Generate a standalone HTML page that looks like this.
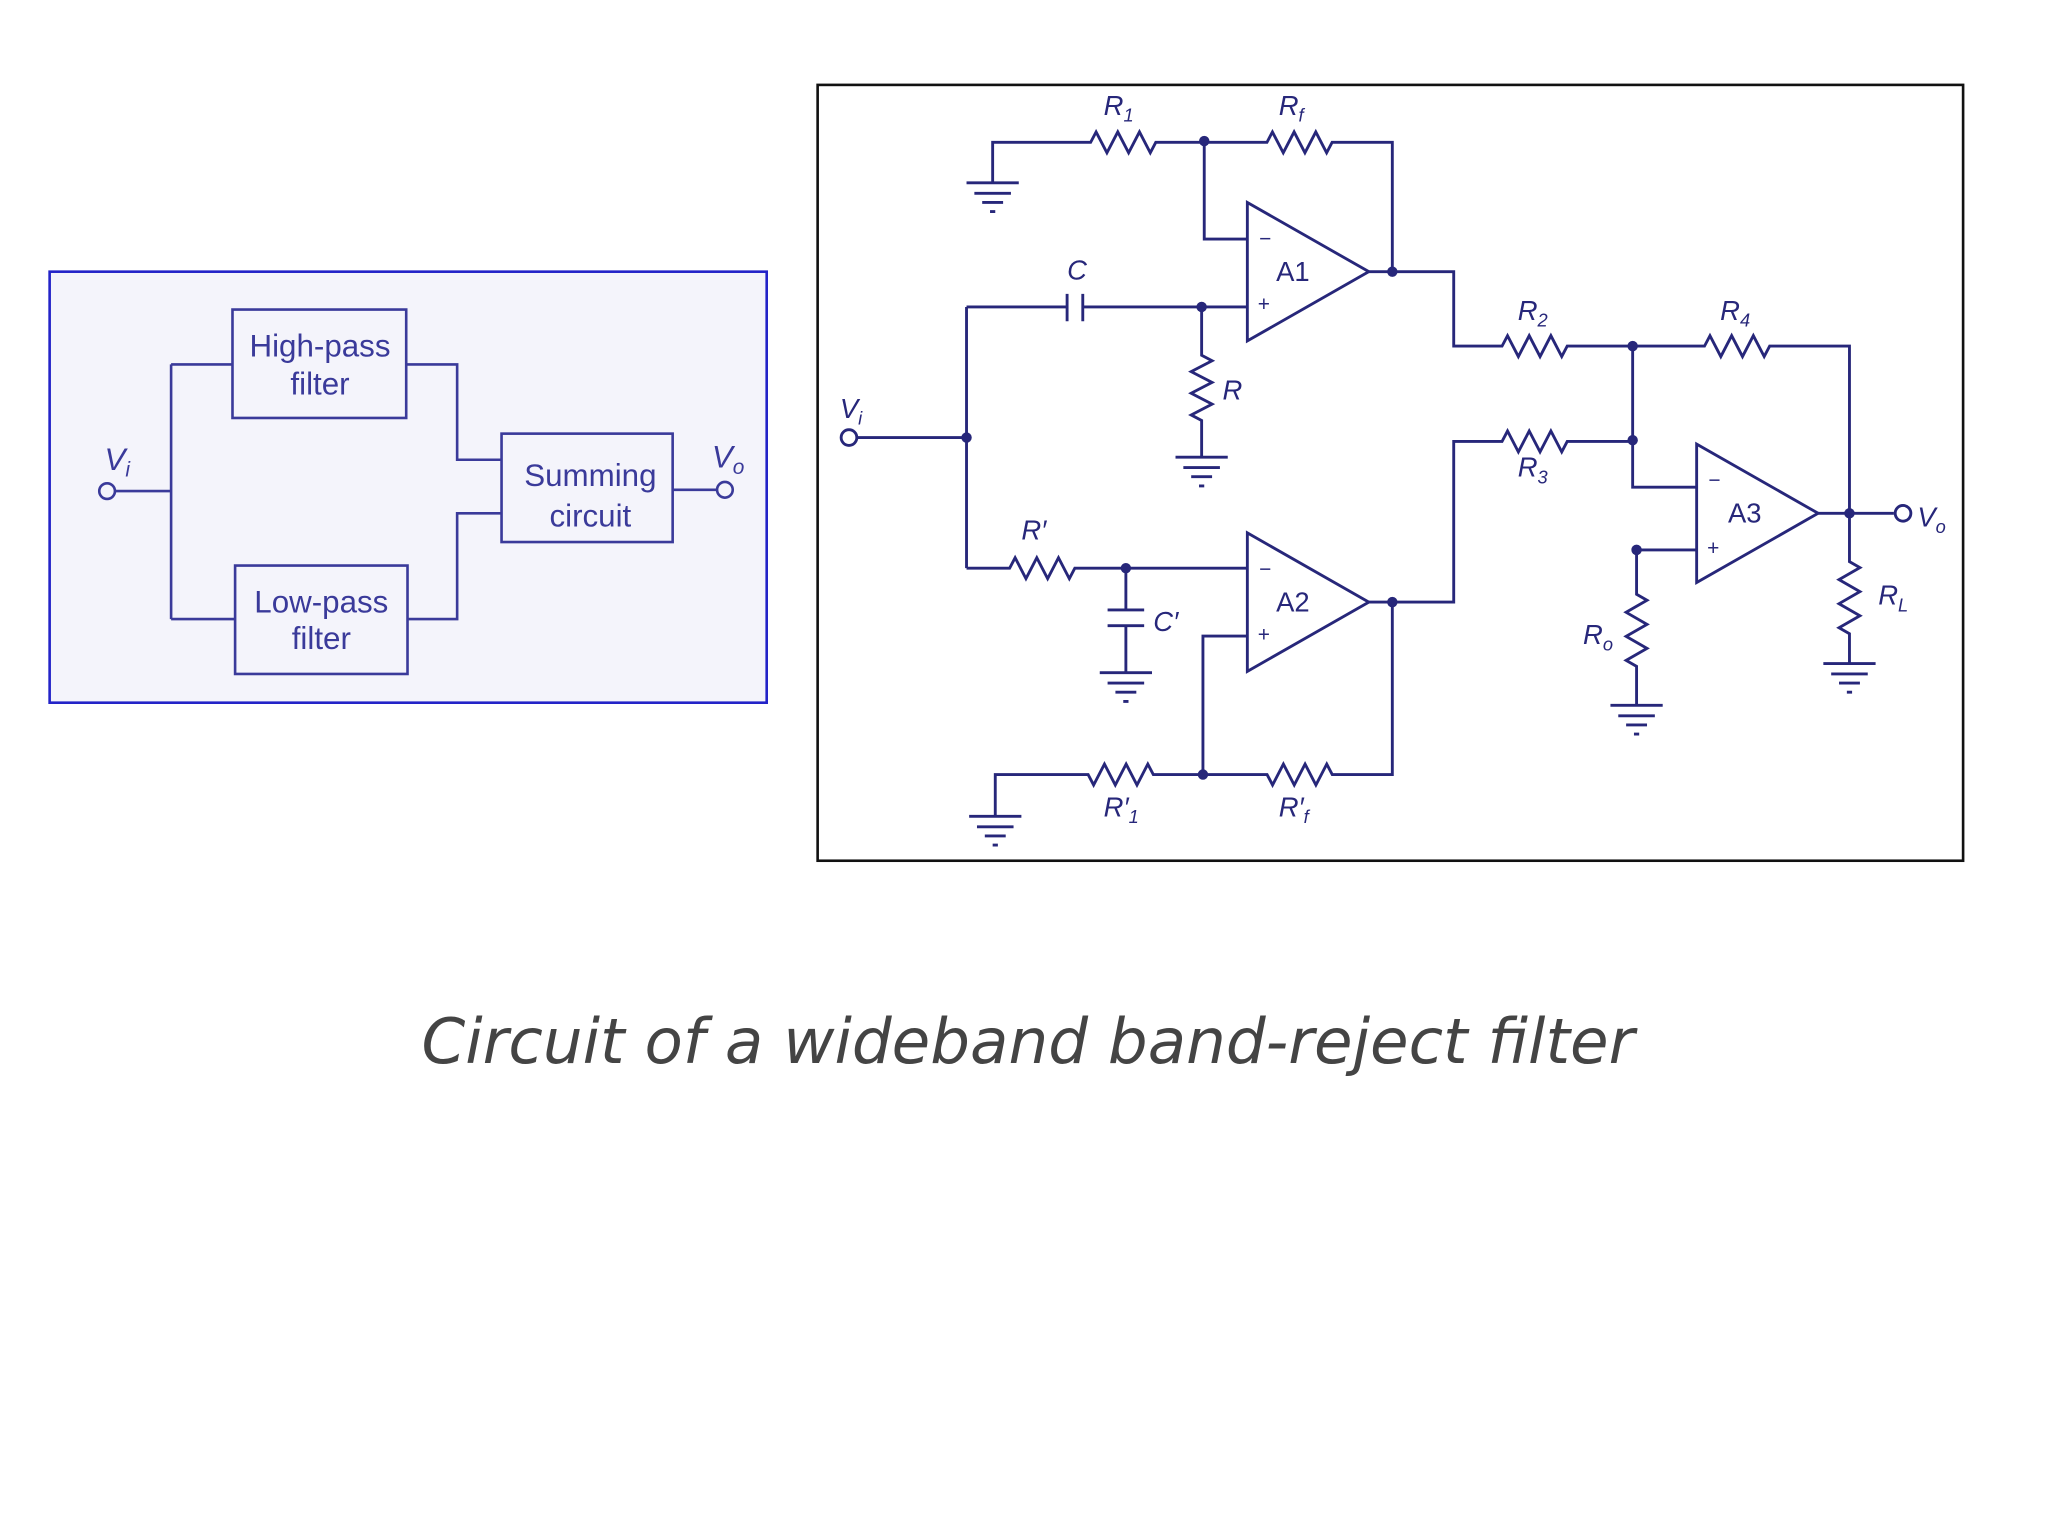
<!DOCTYPE html>
<html><head><meta charset="utf-8"><style>
html,body{margin:0;padding:0;background:#fff;}
svg{display:block;}
</style></head><body>
<svg width="2048" height="1536" viewBox="0 0 1568 1176" xmlns="http://www.w3.org/2000/svg">
<rect width="1568" height="1176" fill="#fff"/>
<!-- Block diagram -->
<rect x="38" y="208" width="549" height="330" fill="#f4f4fb" stroke="#2323c8" stroke-width="2"/>
<g fill="none" stroke="#3a3a9a" stroke-width="2">
<rect x="178" y="237" width="133" height="83"/>
<rect x="180" y="433" width="132" height="83"/>
<rect x="384" y="332" width="131" height="83"/>
<path d="M88 376H131M131 279V474M131 279H178M131 474H180M311 279H350V352H384M312 474H350V393H384M515 375H549"/>
<circle cx="82" cy="376" r="6"/><circle cx="555" cy="375" r="6"/>
</g>
<g fill="#3a3a9a" font-family="Liberation Sans, sans-serif" font-size="24" text-anchor="middle">
<text x="245" y="273">High-pass</text><text x="245" y="302">filter</text>
<text x="246" y="469">Low-pass</text><text x="246" y="497">filter</text>
<text x="452" y="372">Summing</text><text x="452" y="403">circuit</text>
<text x="80" y="360" font-style="italic" text-anchor="start">V<tspan font-size="16" dy="5">i</tspan></text>
<text x="545" y="358" font-style="italic" text-anchor="start">V<tspan font-size="16" dy="5">o</tspan></text>
</g>
<!-- Circuit -->
<rect x="626" y="65" width="877" height="594" fill="#fff" stroke="#111" stroke-width="2"/>
<g fill="none" stroke="#27277a" stroke-width="2.2">
<!-- top feedback -->
<path d="M760 140V109H835l4.2,-8 l8.3,16 l8.3,-16 l8.3,16 l8.3,-16 l8.3,16 l4.2,-8H970l4.2,-8 l8.3,16 l8.3,-16 l8.3,16 l8.3,-16 l8.3,16 l4.2,-8H1066V208"/>
<path d="M922 108V183H955"/>
<path d="M955 155V261L1048 208Z"/>
<path d="M1048 208H1113V265H1150l4.2,-8 l8.3,16 l8.3,-16 l8.3,16 l8.3,-16 l8.3,16 l4.2,-8H1305l4.2,-8 l8.3,16 l8.3,-16 l8.3,16 l8.3,-16 l8.3,16 l4.2,-8H1416V393"/>
<!-- C and R -->
<path d="M740 235H817M817 225V246M829 225V246M829 235H955"/>
<path d="M920 235V272l8,4.2 l-16,8.3 l16,8.3 l-16,8.3 l16,8.3 l-16,8.3 l8,4.2V350"/>
<!-- Vi -->
<path d="M656 335H740M740 235V435"/>
<!-- R' and C' -->
<path d="M740 435H773l4.2,-8 l8.3,16 l8.3,-16 l8.3,16 l8.3,-16 l8.3,16 l4.2,-8H955"/>
<path d="M862 435V467M848 467H876M848 479H876M862 479V515"/>
<path d="M955 408V514L1048 461Z"/>
<path d="M955 487H921V593"/>
<path d="M1048 461H1113V338H1150l4.2,-8 l8.3,16 l8.3,-16 l8.3,16 l8.3,-16 l8.3,16 l4.2,-8H1250"/>
<path d="M1066 461V593H1020l-4.2,-8 l-8.3,16 l-8.3,-16 l-8.3,16 l-8.3,-16 l-8.3,16 l-4.2,-8H883l-4.2,-8 l-8.3,16 l-8.3,-16 l-8.3,16 l-8.3,-16 l-8.3,16 l-4.2,-8H762V625"/>
<!-- A3 -->
<path d="M1250 265V373H1299"/>
<path d="M1299 340V446L1392 393Z"/>
<path d="M1299 421H1253V455l8,4.6 l-16,9.2 l16,9.2 l-16,9.2 l16,9.2 l-16,9.2 l8,4.6V540"/>
<path d="M1392 393H1450"/>
<circle cx="1457" cy="393" r="6"/>
<circle cx="650" cy="335" r="6"/>
<path d="M1416 393V430l8,4.6 l-16,9.2 l16,9.2 l-16,9.2 l16,9.2 l-16,9.2 l8,4.6V508"/>
<!-- grounds -->
<path d="M740 140H780M746 148H774M752 155H768M758 162H762"/>
<path d="M900 350H940M906 358H934M912 365H928M918 372H922"/>
<path d="M842 515H882M848 523H876M854 530H870M860 537H864"/>
<path d="M742 625H782M748 633H776M754 640H770M760 647H764"/>
<path d="M1233 540H1273M1239 548H1267M1245 555H1261M1251 562H1255"/>
<path d="M1396 508H1436M1402 516H1430M1408 523H1424M1414 530H1418"/>
</g>
<g fill="#27277a">
<circle cx="922" cy="108" r="4"/><circle cx="1066" cy="208" r="4"/><circle cx="920" cy="235" r="4"/>
<circle cx="740" cy="335" r="4"/><circle cx="862" cy="435" r="4"/><circle cx="1066" cy="461" r="4"/>
<circle cx="921" cy="593" r="4"/><circle cx="1250" cy="265" r="4"/><circle cx="1250" cy="337" r="4"/>
<circle cx="1253" cy="421" r="4"/><circle cx="1416" cy="393" r="4"/>
</g>
<g fill="#27277a" font-family="Liberation Sans, sans-serif" font-size="21" font-style="italic">
<text x="845" y="88">R<tspan font-size="14" dy="5">1</tspan></text>
<text x="979" y="88">R<tspan font-size="14" dy="5">f</tspan></text>
<text x="817" y="214">C</text>
<text x="936" y="306">R</text>
<text x="977" y="215" font-style="normal">A1</text>
<text x="964" y="188" font-style="normal" font-size="16">−</text>
<text x="963" y="238" font-style="normal" font-size="16">+</text>
<text x="643" y="320">V<tspan font-size="14" dy="5">i</tspan></text>
<text x="782" y="413">R′</text>
<text x="883" y="483">C′</text>
<text x="977" y="468" font-style="normal">A2</text>
<text x="964" y="441" font-style="normal" font-size="16">−</text>
<text x="963" y="491" font-style="normal" font-size="16">+</text>
<text x="845" y="625">R′<tspan font-size="14" dy="5">1</tspan></text>
<text x="979" y="625">R′<tspan font-size="14" dy="5">f</tspan></text>
<text x="1162" y="245">R<tspan font-size="14" dy="5">2</tspan></text>
<text x="1317" y="245">R<tspan font-size="14" dy="5">4</tspan></text>
<text x="1162" y="365">R<tspan font-size="14" dy="5">3</tspan></text>
<text x="1323" y="400" font-style="normal">A3</text>
<text x="1308" y="373" font-style="normal" font-size="16">−</text>
<text x="1307" y="425" font-style="normal" font-size="16">+</text>
<text x="1468" y="403">V<tspan font-size="14" dy="5">o</tspan></text>
<text x="1438" y="463">R<tspan font-size="14" dy="5">L</tspan></text>
<text x="1212" y="493">R<tspan font-size="14" dy="5">o</tspan></text>
</g>
<text x="787" y="814" text-anchor="middle" fill="#444" font-family="DejaVu Sans, Liberation Sans, sans-serif" font-style="italic" font-size="48">Circuit of a wideband band-reject filter</text>
</svg>
</body></html>
